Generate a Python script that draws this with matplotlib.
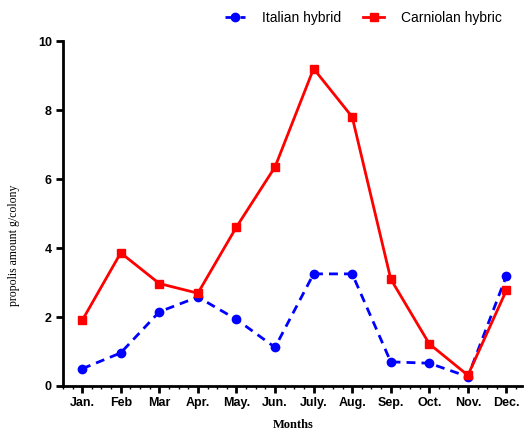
import numpy as np
import matplotlib.pyplot as plt
from matplotlib.ticker import MultipleLocator

months = ["Jan.", "Feb", "Mar", "Apr.", "May.", "Jun.", "July.", "Aug.",
          "Sep.", "Oct.", "Nov.", "Dec."]
italian = [0.5, 0.96, 2.15, 2.58, 1.93, 1.12, 3.25, 3.25, 0.7, 0.66, 0.27, 3.2]
carniolan = [1.9, 3.86, 2.97, 2.69, 4.61, 6.35, 9.2, 7.8, 3.1, 1.22, 0.31, 2.78]

x = np.arange(len(months))

fig = plt.figure(figsize=(5.24, 4.32), dpi=100)
ax = fig.add_axes([0.12, 0.1065, 0.876, 0.7985])

ax.plot(x, italian, color="blue", ls=(0, (3.2, 2.2)), lw=2, marker="o",
        ms=6, label="Italian hybrid")
ax.plot(x, carniolan, color="red", ls="-", lw=2, marker="s", ms=6,
        label="Carniolan hybric")

ax.set_xlim(-0.5, 11.4)
ax.set_ylim(0, 10)
ax.set_xticks(x)
ax.set_xticklabels(months, fontsize=9, fontweight="bold", family="Liberation Sans")
ax.xaxis.set_minor_locator(MultipleLocator(0.25))
ax.set_yticks(np.arange(0, 11, 2))
ax.set_yticklabels([str(v) for v in range(0, 11, 2)], fontsize=9,
                   fontweight="bold", family="Liberation Sans")

for side in ["top", "right"]:
    ax.spines[side].set_visible(False)
for side in ["left", "bottom"]:
    ax.spines[side].set_linewidth(2)
ax.tick_params(axis="both", which="major", width=2, length=5, pad=3)
ax.tick_params(axis="x", which="minor", width=1, length=2)

# axis titles placed in figure coordinates
fig.text(0.56, 0.016, "Months", family="Liberation Serif", fontweight="bold",
         fontsize=9, ha="center", va="center")
fig.text(0.027, 0.433, "propolis amount g/colony", family="Liberation Serif",
         fontsize=8.5, rotation=90, ha="center", va="center")

fig.legend(loc="center", bbox_to_anchor=(0.693, 0.958), ncol=2, frameon=False,
           prop={"family": "Liberation Sans", "size": 10},
           handlelength=1.5, columnspacing=1.6, handletextpad=1.2)

fig.savefig("out.png", dpi=100)
